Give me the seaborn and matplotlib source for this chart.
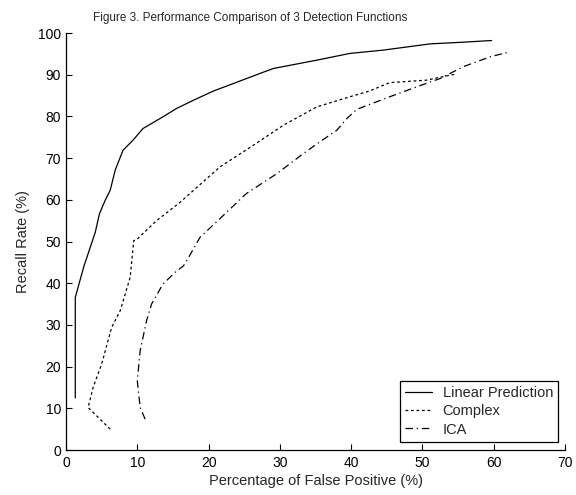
import pandas as pd
import seaborn as sns
import matplotlib.pyplot as plt

lp_fp = [1.3, 1.3, 2.5, 4.1, 4.7, 5.5, 6.2, 6.9, 8.0, 9.4, 10.8, 13.6, 15.5, 17.9,
         20.7, 23.5, 27.2, 29.1, 35.2, 39.8, 44.5, 51.1, 55.7, 59.7]
lp_recall = [12.5, 36.6, 44.0, 52.2, 56.7, 59.9, 62.3, 67.1, 71.9, 74.3, 77.1, 79.9,
             81.9, 83.9, 86.1, 87.9, 90.3, 91.5, 93.5, 95.1, 95.9, 97.4, 97.8, 98.2]

cx_fp = [6.2, 3.1, 3.8, 5.0, 6.4, 7.6, 9.0, 9.5, 10.0, 12.7, 16.0, 21.6, 26.3, 30.5,
         35.2, 39.8, 42.6, 45.4, 50.6, 52.5, 54.8]
cx_recall = [5.0, 10.2, 15.0, 20.6, 29.4, 33.4, 41.4, 50.2, 50.6, 55.0, 59.4, 67.9,
             73.1, 77.9, 82.3, 84.7, 86.1, 88.1, 88.7, 89.4, 90.2]

ica_fp = [11.1, 10.4, 10.0, 10.4, 11.3, 12.0, 13.6, 15.3, 16.5, 17.2, 18.8, 21.6,
          25.3, 29.6, 33.3, 35.6, 38.0, 39.4, 40.8, 45.4, 49.2, 52.5, 55.7, 59.5, 62.3]
ica_recall = [7.4, 10.2, 16.6, 23.8, 31.0, 35.0, 39.8, 42.6, 44.2, 46.2, 51.0, 55.5,
              61.5, 66.3, 71.1, 73.9, 76.7, 79.5, 81.7, 84.7, 87.1, 89.1, 91.9, 94.3, 95.5]

series = [
    ("Linear Prediction", lp_fp, lp_recall, "-"),
    ("Complex", cx_fp, cx_recall, (0, (2.2, 2.2))),
    ("ICA", ica_fp, ica_recall, (0, (6, 3, 1, 3))),
]

sns.set_style("white")
plt.rcParams["font.family"] = ["Liberation Sans", "DejaVu Sans"]

fig = plt.figure(figsize=(5.76, 4.95), dpi=100)
ax = fig.add_axes([0.1146, 0.0909, 0.8663, 0.8424])

for name, fp, rec, ls in series:
    df = pd.DataFrame({"fp": fp, "recall": rec})
    sns.lineplot(data=df, x="fp", y="recall", sort=False, estimator=None,
                 color="black", linewidth=0.9, linestyle=ls, label=name, ax=ax)

ax.set_xlim(0, 70)
ax.set_ylim(0, 100)
ax.set_xticks(range(0, 71, 10))
ax.set_yticks(range(0, 101, 10))
ax.tick_params(direction="in", length=4, width=0.8, labelsize=10, colors="black",
               bottom=True, left=True)
ax.tick_params(axis="x", pad=4)
ax.tick_params(axis="y", pad=3.5)
for side in ["top", "right"]:
    ax.spines[side].set_visible(False)
for side in ["left", "bottom"]:
    ax.spines[side].set_color("black")
    ax.spines[side].set_linewidth(0.9)

ax.set_xlabel("Percentage of False Positive (%)", fontsize=10.5, labelpad=3)
ax.set_ylabel("Recall Rate (%)", fontsize=10.5, labelpad=6)
ax.set_title("Figure 3. Performance Comparison of 3 Detection Functions",
             fontsize=8.5, x=0.369, pad=9)

leg = ax.legend(loc="lower right", bbox_to_anchor=(0.986, 0.02), fontsize=10.5,
                frameon=True, fancybox=False, edgecolor="black", framealpha=1,
                handlelength=1.9, handletextpad=0.7, borderpad=0.35,
                labelspacing=0.3, borderaxespad=0)
leg.get_frame().set_linewidth(0.9)

fig.savefig("out.png", dpi=100)
